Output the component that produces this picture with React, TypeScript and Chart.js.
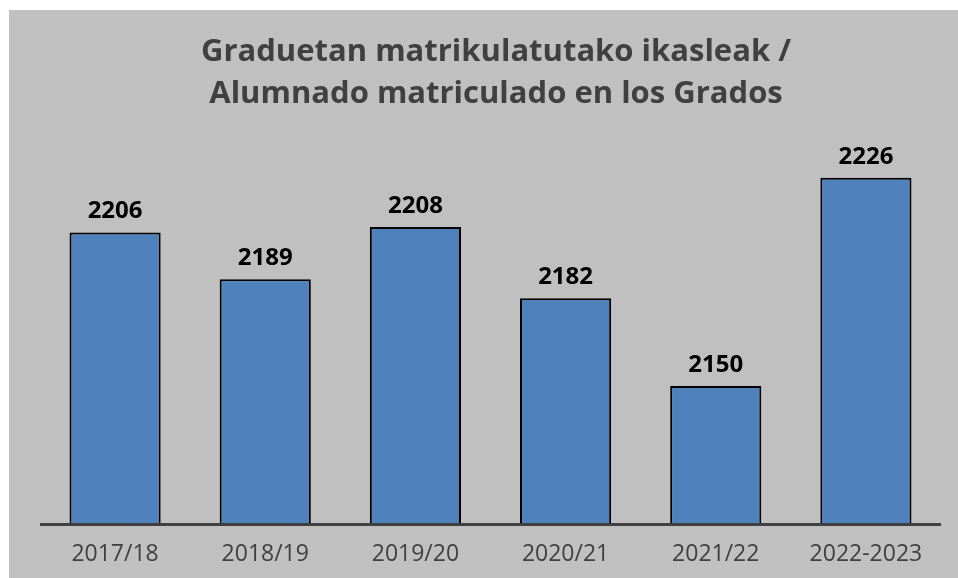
import React, { useEffect, useRef } from "react";
import { Chart, registerables } from "chart.js";

Chart.register(...registerables);

const categories = ["2017/18", "2018/19", "2019/20", "2020/21", "2021/22", "2022-2023"];
const values = [2206, 2189, 2208, 2182, 2150, 2226];
const titleLines = ["Graduetan matrikulatutako ikasleak /", "Alumnado matriculado en los Grados"];

const W = 949;
const H = 568;

export default function App() {
  const ref = useRef<HTMLCanvasElement | null>(null);

  useEffect(() => {
    if (!ref.current) return;
    const overlay = {
      id: "overlay",
      afterDatasetsDraw(chart: any) {
        const ctx = chart.ctx;
        const area = chart.chartArea;
        ctx.save();
        // axis line
        ctx.strokeStyle = "#404040";
        ctx.lineWidth = 3;
        ctx.beginPath();
        ctx.moveTo(area.left, area.bottom + 1.5);
        ctx.lineTo(area.right, area.bottom + 1.5);
        ctx.stroke();
        // data labels
        const meta = chart.getDatasetMeta(0);
        ctx.fillStyle = "#000000";
        ctx.font = "bold 24px 'Open Sans'";
        ctx.textAlign = "center";
        ctx.textBaseline = "middle";
        meta.data.forEach((bar: any, i: number) => {
          ctx.fillText(String(values[i]), bar.x, bar.y - 21);
        });
        // title
        ctx.fillStyle = "#404040";
        ctx.font = "bold 31px 'Open Sans'";
        ctx.fillText(titleLines[0], 487, 42);
        ctx.fillText(titleLines[1], 487, 84);
        ctx.restore();
      },
    };

    const chart = new Chart(ref.current, {
      type: "bar",
      data: {
        labels: categories,
        datasets: [
          {
            data: values,
            backgroundColor: "#4f81bd",
            borderColor: "#000000",
            borderWidth: 2,
            borderSkipped: "bottom",
            barPercentage: 0.607,
            categoryPercentage: 1,
          },
        ],
      },
      options: {
        responsive: false,
        animation: false,
        layout: { padding: { top: 102, left: 31, right: 17, bottom: 0 } },
        plugins: {
          legend: { display: false },
          title: { display: false },
          tooltip: { enabled: false },
        },
        scales: {
          y: {
            display: false,
            min: 2100,
            max: 2250,
          },
          x: {
            grid: { display: false, drawTicks: false },
            border: { display: false },
            ticks: {
              color: "#404040",
              font: { family: "'Open Sans'", size: 23 },
              padding: 18,
              maxRotation: 0,
              autoSkip: false,
            },
            afterFit: (scale: any) => {
              scale.height = 55;
            },
          },
        },
      },
      plugins: [overlay],
    });
    return () => chart.destroy();
  }, []);

  return (
    <div
      style={{
        position: "absolute",
        left: 9,
        top: 10,
        width: W,
        height: H,
        background: "#c0c0c0",
      }}
    >
      <canvas ref={ref} width={W} height={H} style={{ display: "block" }} />
    </div>
  );
}
